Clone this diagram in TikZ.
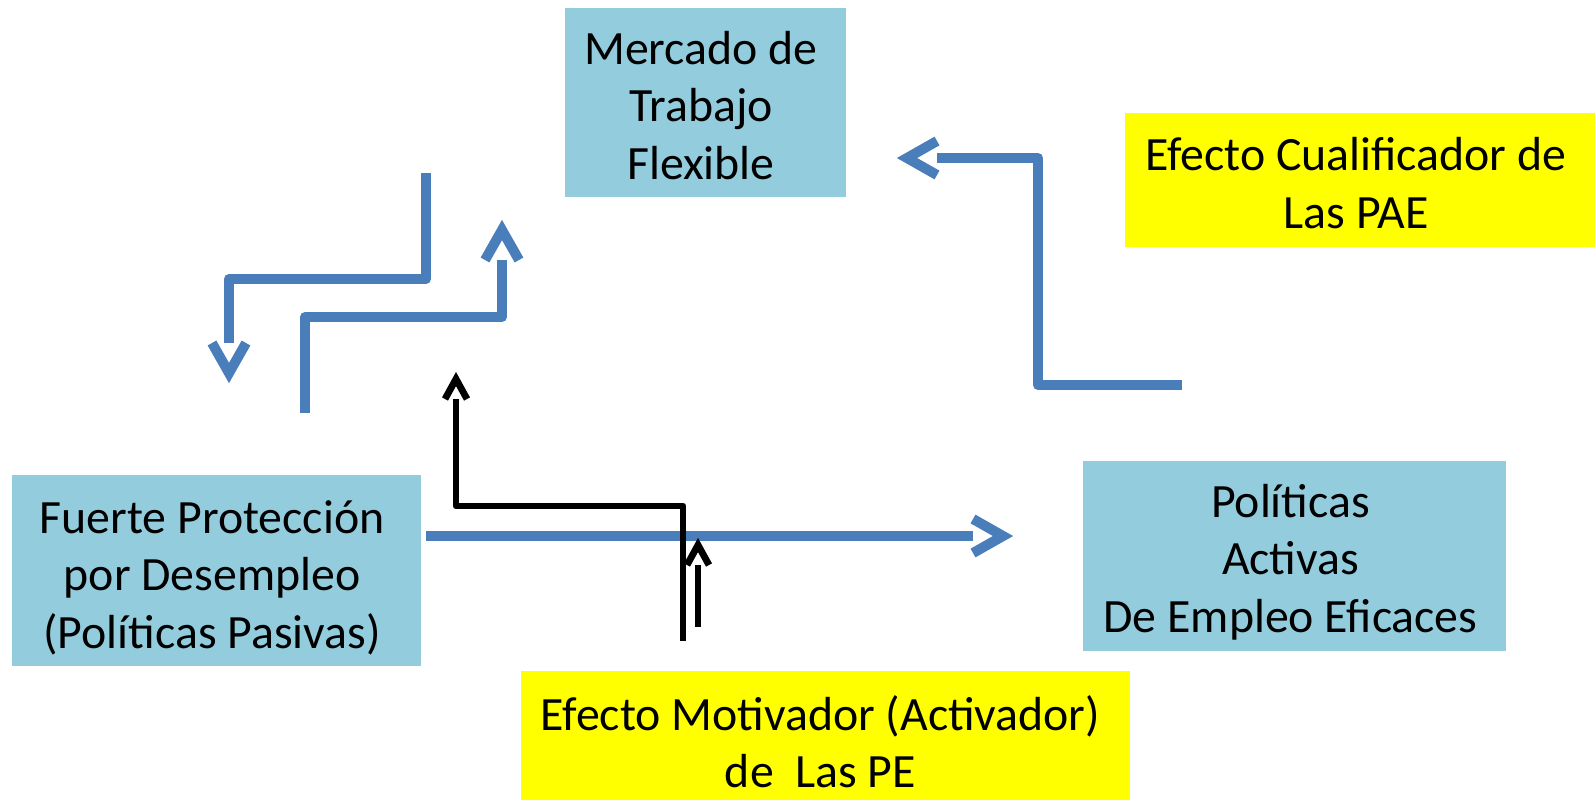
\documentclass[tikz,border=0pt]{standalone}
\usepackage{fontspec}
\setmainfont{Carlito}
\usetikzlibrary{arrows.meta}
\definecolor{boxblue}{HTML}{93CDDD}
\definecolor{lineblue}{HTML}{4A7EBB}
\definecolor{yel}{HTML}{FFFF00}
\pgfdeclarearrow{
  name = Chev,
  parameters = {\the\pgfarrowlength,\the\pgfarrowwidth,\the\pgflinewidth},
  defaults = {length=15pt, width=17pt},
  setup code = {
    \pgfarrowssettipend{0pt}
    \pgfarrowssetbackend{-\pgfarrowlength}
    \pgfarrowssetlineend{-\pgfarrowlength}
    \pgfarrowssavethe\pgfarrowlength
    \pgfarrowssavethe\pgfarrowwidth
  },
  drawing code = {
    \pgfsetmiterjoin
    \pgfsetbuttcap
    \pgfpathmoveto{\pgfqpoint{-\pgfarrowlength}{.5\pgfarrowwidth}}
    \pgfpathlineto{\pgfqpoint{0pt}{0pt}}
    \pgfpathlineto{\pgfqpoint{-\pgfarrowlength}{-.5\pgfarrowwidth}}
    \pgfusepathqstroke
  }
}
\begin{document}
\begin{tikzpicture}[x=0.5pt,y=-0.5pt,
  txt/.style={inner sep=0pt, align=center, font=\fontsize{23.9}{28.8}\selectfont},
  bluebox/.style={inner sep=0pt, fill=boxblue},
  yelbox/.style={inner sep=0pt, fill=yel},
  bluearrow/.style={draw=lineblue, line width=5pt, line join=round, -{Chev[length=15pt,width=17pt]}},
  blackarrow/.style={draw=black, line width=3.4pt, line join=round, -{Chev[length=10pt,width=11pt]}}]
\useasboundingbox (0,0) rectangle (1595,800);
% boxes
\node[bluebox, minimum width=140.5pt, minimum height=94.5pt,
  label={[txt, xshift=-2.3pt, yshift=-1.5pt]center:Mercado de\\Trabajo\\Flexible}] (mercado) at (705.5,102.5) {};
\node[bluebox, minimum width=204.5pt, minimum height=95.5pt,
  label={[txt, xshift=-2.2pt, yshift=-3.5pt]center:Fuerte Protección\\por Desempleo\\(Políticas Pasivas)}] (fuerte) at (216.5,570.5) {};
\node[bluebox, minimum width=211.5pt, minimum height=95pt,
  label={[txt, xshift=-2pt, yshift=-3pt]center:Políticas\\Activas\\De Empleo Eficaces}] (activas) at (1294.5,556) {};
\node[yelbox, minimum width=235pt, minimum height=67pt,
  label={[txt, xshift=-2pt, yshift=-1.5pt]center:Efecto Cualificador de\\Las PAE}] (cualif) at (1360,180) {};
\node[yelbox, minimum width=304.5pt, minimum height=64.5pt,
  label={[txt, xshift=-2.5pt, yshift=-3pt]center:Efecto Motivador (Activador)\\de\ \ Las PE}] (motiv) at (825.5,735.5) {};
% connector points
\coordinate (a1s) at (426,173);
\coordinate (a1c) at (229,279);
\coordinate (a1e) at (229,373);
\coordinate (a2s) at (305,413);
\coordinate (a2c) at (502,317);
\coordinate (a2e) at (502,230);
\coordinate (a3s) at (426,536);
\coordinate (a3e) at (1003,536);
\coordinate (a4s) at (1182,385);
\coordinate (a4c) at (1038,158);
\coordinate (a4e) at (907,158);
\coordinate (b1s) at (683,641);
\coordinate (b1c) at (456,506);
\coordinate (b1e) at (456,379);
\coordinate (b2s) at (698,627);
\coordinate (b2e) at (698,545);
% connectors
\draw[bluearrow] (a1s) |- (a1c) -- (a1e);
\draw[bluearrow] (a2s) |- (a2c) -- (a2e);
\draw[bluearrow] (a3s) -- (a3e);
\draw[bluearrow] (a4s) -| (a4c) -- (a4e);
\draw[blackarrow] (b1s) |- (b1c) -- (b1e);
\draw[blackarrow] (b2s) -- (b2e);
\end{tikzpicture}
\end{document}
